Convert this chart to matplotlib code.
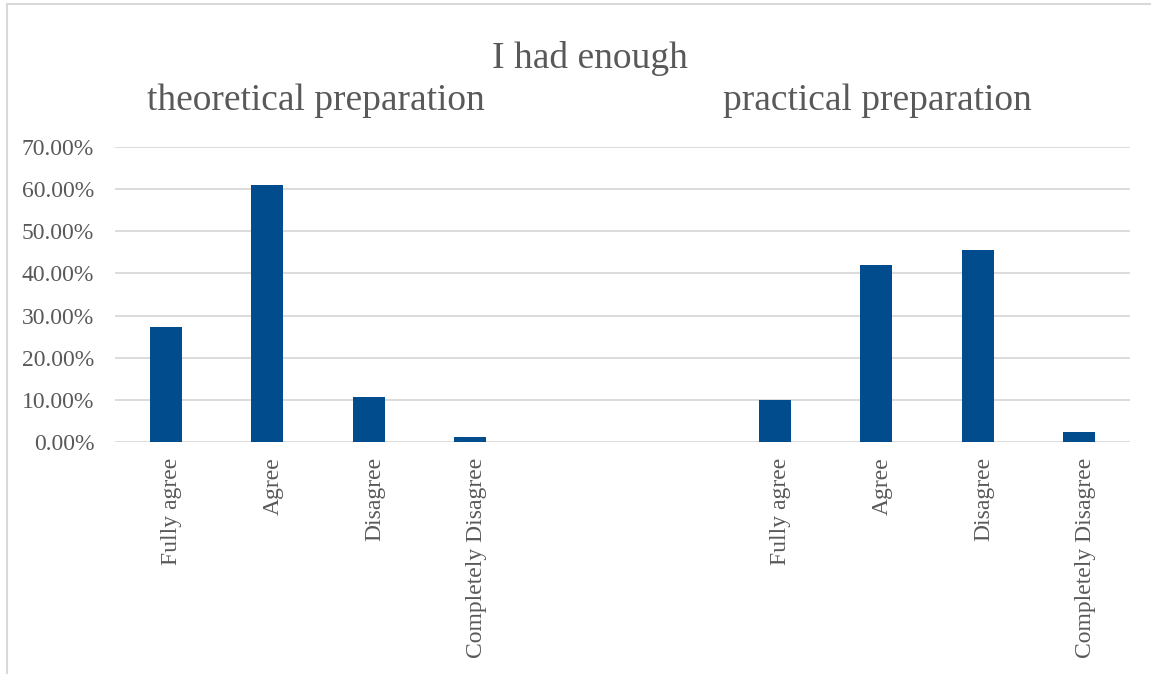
import numpy as np
import matplotlib
matplotlib.use('Agg')
from matplotlib import pyplot as plt
from matplotlib.lines import Line2D

# survey answers, share of respondents
categories = ['Fully agree', 'Agree', 'Disagree', 'Completely Disagree']
theoretical = [0.272, 0.609, 0.106, 0.011]
practical = [0.099, 0.419, 0.455, 0.023]
yticks = [0.0, 0.1, 0.2, 0.3, 0.4, 0.5, 0.6, 0.7]

bar_color = '#004C8C'
grid_color = '#D9D9D9'
text_color = '#595959'
gap = 2  # empty slots between the two groups
label_nudge = 0.06  # rotated labels sit a bit right of the bar centre

plt.rcParams['font.family'] = ['Liberation Serif', 'DejaVu Serif']

fig = plt.figure(figsize=(11.51, 6.74), dpi=100)
ax = fig.add_axes([115 / 1151, 1 - 442 / 674, (1130 - 115) / 1151, (442 - 147) / 674])

x_theo = np.arange(len(categories))
x_prac = np.arange(len(categories)) + len(categories) + gap
ax.bar(x_theo, theoretical, width=0.315, color=bar_color, zorder=3)
ax.bar(x_prac, practical, width=0.315, color=bar_color, zorder=3)

ax.set_xlim(-0.5, len(categories) * 2 + gap - 0.5)
ax.set_ylim(0, 0.7)
ax.set_yticks(yticks)
ax.set_yticklabels(['{:.2f}%'.format(v * 100) for v in yticks])
ax.set_xticks(np.concatenate([x_theo, x_prac]) + label_nudge)
ax.set_xticklabels(categories + categories, rotation=90, va='top', ha='center')

ax.tick_params(axis='both', length=0, labelsize=17, labelcolor=text_color)
ax.tick_params(axis='y', pad=15)
ax.tick_params(axis='x', pad=11)
ax.yaxis.grid(True, color=grid_color, linewidth=1.3, zorder=0)
ax.set_axisbelow(True)
for side in ax.spines:
    ax.spines[side].set_visible(False)

# titles
fig.text(590 / 1151, 1 - 68 / 674, 'I had enough', ha='center', va='baseline',
         fontsize=27, color=text_color)
fig.text(316 / 1151, 1 - 110 / 674, 'theoretical preparation', ha='center', va='baseline',
         fontsize=27, color=text_color)
fig.text(877 / 1151, 1 - 110 / 674, 'practical preparation', ha='center', va='baseline',
         fontsize=27, color=text_color)

# chart frame (only top and left edges fall inside the image)
fig.add_artist(Line2D([7 / 1151, 7 / 1151], [0, 1 - 4 / 674], transform=fig.transFigure,
                      color=grid_color, linewidth=1.5))
fig.add_artist(Line2D([7 / 1151, 1], [1 - 4 / 674, 1 - 4 / 674], transform=fig.transFigure,
                      color=grid_color, linewidth=1.5))

plt.savefig('out.png', dpi=100)
plt.close()
